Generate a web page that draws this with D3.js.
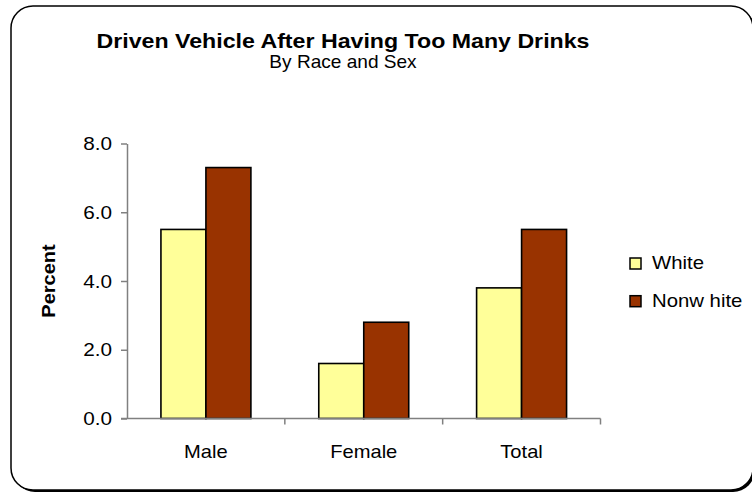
<!DOCTYPE html>
<html>
<head>
<meta charset="utf-8">
<script src="https://cdn.jsdelivr.net/npm/d3@7"></script>
<style>
  html, body { margin: 0; padding: 0; background: #fff; }
  svg { display: block; font-family: "Liberation Sans", Arial, sans-serif; }
</style>
</head>
<body>
<svg id="chart" width="752" height="494"></svg>
<script>
// Survey results: share who drove after having too many drinks
const categories = ["Male", "Female", "Total"];
const seriesNames = ["White", "Nonw hite"];
const whiteValues = [5.5, 1.6, 3.8];
const nonwhiteValues = [7.3, 2.8, 5.5];
const yTicks = [0, 2, 4, 6, 8];
const seriesColors = ["#FFFF99", "#993300"];

const titleText = "Driven Vehicle After Having Too Many Drinks";
const subtitleText = "By Race and Sex";
const yLabelText = "Percent";

const rows = categories.map((c, i) => ({ category: c, values: [whiteValues[i], nonwhiteValues[i]] }));

const svg = d3.select("#chart");

// stretch text along its own direction
function widen(sel, k) {
  sel.each(function () {
    const len = this.getComputedTextLength();
    d3.select(this).attr("textLength", len * k).attr("lengthAdjust", "spacingAndGlyphs");
  });
}

// outer frame with drop shadow at bottom/right
svg.append("rect")
  .attr("x", 13).attr("y", 8).attr("width", 742).attr("height", 484)
  .attr("rx", 22).attr("ry", 22)
  .attr("fill", "#000");
svg.append("rect")
  .attr("x", 11).attr("y", 6).attr("width", 742).attr("height", 484)
  .attr("rx", 22).attr("ry", 22)
  .attr("fill", "#fff").attr("stroke", "#000").attr("stroke-width", 1.5);

const plot = { left: 127, right: 600.5, top: 143.5, bottom: 418.5 };

const x0 = d3.scaleBand().domain(categories).range([plot.left, plot.right]).padding(0);
const bw = x0.bandwidth();
const x1 = d3.scaleBand().domain(d3.range(seriesNames.length))
  .range([bw * 0.215, bw * 0.785]).padding(0);
const y = d3.scaleLinear().domain([0, 8]).range([plot.bottom, plot.top]);
const color = d3.scaleOrdinal().domain(d3.range(seriesNames.length)).range(seriesColors);

// bars
const groups = svg.append("g").selectAll("g").data(rows).join("g")
  .attr("transform", d => `translate(${x0(d.category)},0)`);
groups.selectAll("rect").data(d => d.values.map((v, i) => ({ v, i }))).join("rect")
  .attr("x", d => x1(d.i))
  .attr("y", d => y(d.v))
  .attr("width", x1.bandwidth())
  .attr("height", d => y(0) - y(d.v))
  .attr("fill", d => color(d.i))
  .attr("stroke", "#000").attr("stroke-width", 1.6);

// y axis
const yAxis = svg.append("g").attr("transform", `translate(${plot.left},0)`)
  .call(d3.axisLeft(y).tickValues(yTicks).tickFormat(d3.format(".1f")).tickSizeInner(6).tickSizeOuter(0).tickPadding(9));
yAxis.select(".domain").attr("stroke", "#808080").attr("stroke-width", 1.5);
yAxis.selectAll(".tick line").attr("stroke", "#808080").attr("stroke-width", 1.5);
yAxis.selectAll(".tick text").attr("font-size", 19).attr("fill", "#000")
  .attr("font-family", "Liberation Sans, Arial, sans-serif").call(widen, 1.09);

// x axis: ticks sit on band edges
const xAxis = svg.append("g").attr("transform", `translate(0,${plot.bottom})`);
xAxis.append("line")
  .attr("x1", plot.left - 6).attr("x2", plot.right).attr("y1", 0).attr("y2", 0)
  .attr("stroke", "#808080").attr("stroke-width", 1.5);
xAxis.selectAll("line.edge").data(categories.slice(1).concat(["__end"])).join("line")
  .attr("class", "edge")
  .attr("x1", (d, i) => plot.left + bw * (i + 1)).attr("x2", (d, i) => plot.left + bw * (i + 1))
  .attr("y1", 0).attr("y2", 6)
  .attr("stroke", "#808080").attr("stroke-width", 1.5);
xAxis.selectAll("text").data(categories).join("text")
  .attr("x", d => x0(d) + bw / 2).attr("y", 39)
  .attr("text-anchor", "middle").attr("font-size", 19).attr("fill", "#000")
  .text(d => d).call(widen, 1.06);

// titles
svg.append("text").attr("x", 343).attr("y", 48).attr("text-anchor", "middle")
  .attr("font-size", 20.5).attr("font-weight", "bold").text(titleText).call(widen, 1.13);
svg.append("text").attr("x", 343).attr("y", 68).attr("text-anchor", "middle")
  .attr("font-size", 18.5).text(subtitleText).call(widen, 1.03);

// y axis label
svg.append("text")
  .attr("transform", `translate(55,${(plot.top + plot.bottom) / 2}) rotate(-90)`)
  .attr("text-anchor", "middle").attr("font-size", 18).attr("font-weight", "bold")
  .text(yLabelText).call(widen, 1.11);

// legend
const legend = svg.append("g").attr("transform", "translate(630,258)");
const items = legend.selectAll("g").data(seriesNames).join("g")
  .attr("transform", (d, i) => `translate(0,${i * 37.7})`);
items.append("rect").attr("width", 11).attr("height", 11)
  .attr("fill", (d, i) => color(i)).attr("stroke", "#000").attr("stroke-width", 1.5);
items.append("text").attr("x", 22).attr("y", 11).attr("font-size", 19)
  .text(d => d).call(widen, 1.07);
</script>
</body>
</html>
